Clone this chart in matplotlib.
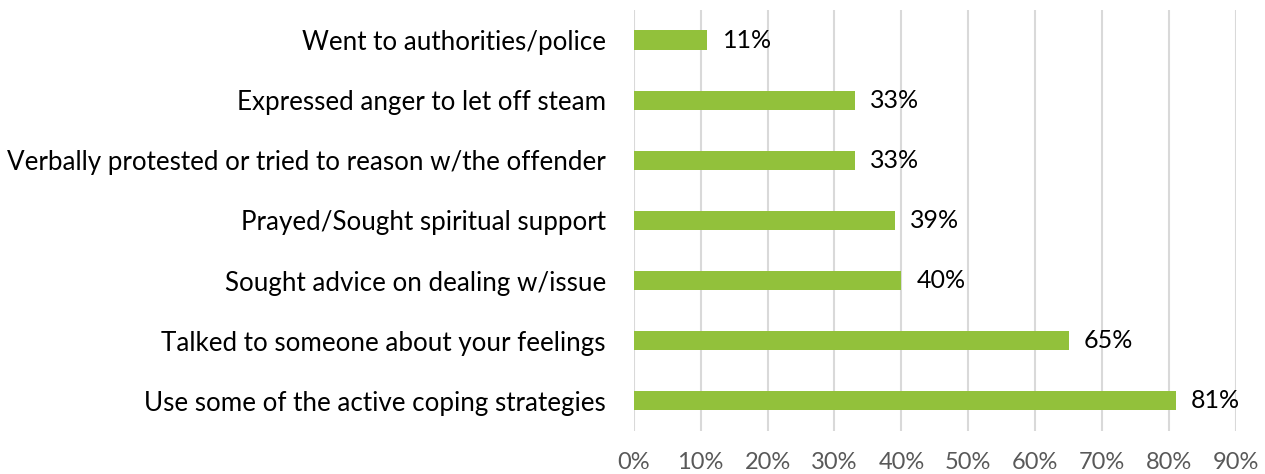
# horizontal bar chart of coping responses

import matplotlib.pyplot as plt
import numpy as np

plt.rcParams['font.family'] = ['Lato', 'DejaVu Sans']

# data
# ---

responses = ['Went to authorities/police',
             'Expressed anger to let off steam',
             'Verbally protested or tried to reason w/the offender',
             'Prayed/Sought spiritual support',
             'Sought advice on dealing w/issue',
             'Talked to someone about your feelings',
             'Use some of the active coping strategies']
shares = [0.11, 0.33, 0.33, 0.39, 0.40, 0.65, 0.81]
xticks = [0.0, 0.1, 0.2, 0.3, 0.4, 0.5, 0.6, 0.7, 0.8, 0.9]

# plot
# ---

fig = plt.figure(figsize=(12.65, 4.74), dpi=100)
ax = fig.add_axes([0.501, 0.091, 0.476, 0.888])

ypos = np.arange(len(responses))
ax.barh(ypos, shares, height=0.32, color='#92C13B', zorder=2)
for y, s in zip(ypos, shares):
    ax.text(s + 0.023, y, '{:.0f}%'.format(s * 100), va='center', ha='left',
            fontsize=18, color='#000000')

ax.set_xlim(0, 0.9)
ax.set_ylim(len(responses) - 0.5, -0.5)
ax.set_yticks(ypos)
ax.set_yticklabels(responses, fontsize=18.7, color='#000000')
ax.set_xticks(xticks)
ax.set_xticklabels(['{:.0f}%'.format(t * 100) for t in xticks], fontsize=17, color='#595959')
ax.tick_params(axis='both', length=0)
ax.tick_params(axis='y', pad=20)
ax.tick_params(axis='x', pad=15)
ax.grid(axis='x', color='#d9d9d9', linewidth=1.5, zorder=0)
for side in ['top', 'right', 'bottom', 'left']:
    ax.spines[side].set_visible(False)

plt.savefig('out.png', dpi=100)
plt.close()
